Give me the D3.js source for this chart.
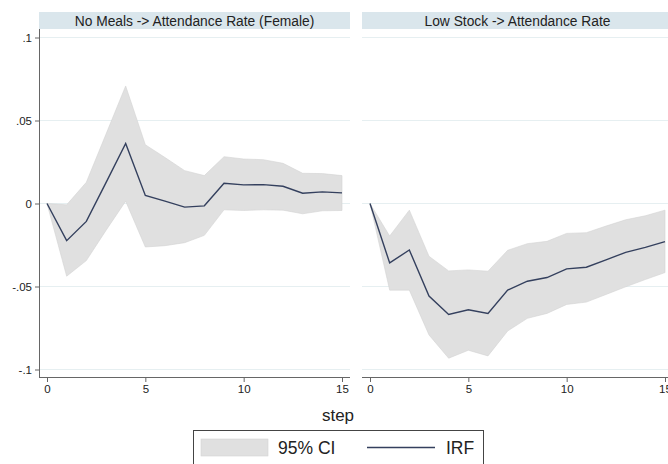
<!DOCTYPE html>
<html>
<head>
<meta charset="utf-8">
<script src="https://cdn.jsdelivr.net/npm/d3@7"></script>
<style>
  html, body { margin: 0; padding: 0; background: #fff; }
  svg { display: block; font-family: "Liberation Sans", Arial, sans-serif; }
</style>
</head>
<body>
<svg id="chart" width="668" height="464"></svg>
<script>
// Impulse-response functions with 95% confidence bands, two panels.
const steps = d3.range(0, 16);

const panelTitles = ["No Meals -> Attendance Rate (Female)", "Low Stock -> Attendance Rate"];

const irfMeals   = [0, -0.0224, -0.0108, 0.0126, 0.0362, 0.0048, 0.0014, -0.0022, -0.0014, 0.0122, 0.0112, 0.0114, 0.0104, 0.0062, 0.0070, 0.0064];
const upperMeals = [0, -0.0008, 0.0128, 0.0418, 0.0708, 0.0354, 0.0277, 0.0198, 0.0168, 0.0282, 0.0268, 0.0264, 0.0242, 0.0182, 0.0180, 0.0168];
const lowerMeals = [0, -0.0438, -0.0344, -0.0162, 0.0014, -0.0262, -0.0254, -0.0236, -0.0192, -0.0038, -0.0042, -0.0038, -0.0040, -0.0062, -0.0044, -0.0042];

const irfStock   = [0, -0.0358, -0.0280, -0.0558, -0.0668, -0.0640, -0.0662, -0.0522, -0.0468, -0.0446, -0.0394, -0.0384, -0.0340, -0.0294, -0.0264, -0.0230];
const upperStock = [0, -0.0196, -0.0040, -0.0318, -0.0406, -0.0400, -0.0408, -0.0282, -0.0242, -0.0228, -0.0180, -0.0176, -0.0136, -0.0098, -0.0074, -0.0040];
const lowerStock = [0, -0.0522, -0.0522, -0.0792, -0.0932, -0.0884, -0.0918, -0.0768, -0.0692, -0.0662, -0.0608, -0.0594, -0.0548, -0.0502, -0.0458, -0.0416];

const yTicks = [0.1, 0.05, 0, -0.05, -0.1];
const yTickLabels = [".1", ".05", "0", "-.05", "-.1"];
const xTicks = [0, 5, 10, 15];

const legendLabels = ["95% CI", "IRF"];
const xTitle = "step";

const colors = {
  band: "#e0e0e0",
  bandEdge: "#d4d4d4",
  line: "#34405e",
  grid: "#e6eff1",
  strip: "#dae6ec",
  axis: "#666666",
  text: "#222222"
};

const svg = d3.select("#chart");

const panels = [
  { title: panelTitles[0], irf: irfMeals, upper: upperMeals, lower: lowerMeals, x0: 39, x1: 350, showY: true },
  { title: panelTitles[1], irf: irfStock, upper: upperStock, lower: lowerStock, x0: 362, x1: 673, showY: false }
];

const plotTop = 29, plotBottom = 377;
const y = d3.scaleLinear().domain([-0.1, 0.1]).range([369.5, 37.5]);

panels.forEach(p => {
  const x = d3.scaleLinear().domain([0, 15]).range([p.x0 + 8, p.x1 - 8]);
  const g = svg.append("g");

  // header strip
  g.append("rect")
    .attr("x", p.x0).attr("y", 12)
    .attr("width", p.x1 - p.x0).attr("height", 17)
    .attr("fill", colors.strip);
  g.append("text")
    .attr("x", (p.x0 + p.x1) / 2).attr("y", 25.5)
    .attr("text-anchor", "middle")
    .attr("font-size", 13.8).attr("fill", colors.text)
    .text(p.title);

  // horizontal gridlines
  g.selectAll("line.grid").data(yTicks).join("line")
    .attr("class", "grid")
    .attr("x1", p.x0).attr("x2", p.x1)
    .attr("y1", d => y(d)).attr("y2", d => y(d))
    .attr("stroke", colors.grid).attr("stroke-width", 1);

  // confidence band
  const area = d3.area()
    .x((d, i) => x(steps[i]))
    .y0((d, i) => y(p.lower[i]))
    .y1((d, i) => y(p.upper[i]));
  g.append("path")
    .datum(steps)
    .attr("d", area)
    .attr("fill", colors.band)
    .attr("stroke", colors.bandEdge)
    .attr("stroke-width", 0.6);

  // impulse response line
  const line = d3.line()
    .x((d, i) => x(steps[i]))
    .y((d, i) => y(p.irf[i]));
  g.append("path")
    .datum(steps)
    .attr("d", line)
    .attr("fill", "none")
    .attr("stroke", colors.line)
    .attr("stroke-width", 1.4)
    .attr("stroke-linejoin", "miter");

  // x axis
  const xAxis = d3.axisBottom(x).tickValues(xTicks).tickSize(5).tickPadding(3).tickFormat(d3.format("d"));
  const ax = g.append("g").attr("transform", `translate(0,${plotBottom})`).call(xAxis);
  ax.select(".domain").attr("d", `M${p.x0},0.5H${p.x1}`).attr("stroke", colors.axis);
  ax.selectAll(".tick line").attr("stroke", colors.axis);
  ax.selectAll(".tick text").attr("font-size", 11.5).attr("fill", colors.text).attr("font-family", "Liberation Sans, Arial, sans-serif");

  // y axis (first panel only)
  if (p.showY) {
    const yAxis = d3.axisLeft(y).tickValues(yTicks).tickSize(4).tickPadding(3)
      .tickFormat((d, i) => yTickLabels[i]);
    const ay = g.append("g").attr("transform", `translate(${p.x0},0)`).call(yAxis);
    ay.select(".domain").attr("d", `M0.5,${plotTop}V${plotBottom}`).attr("stroke", colors.axis);
    ay.selectAll(".tick line").attr("stroke", colors.axis);
    ay.selectAll(".tick text").attr("font-size", 11.5).attr("fill", colors.text).attr("font-family", "Liberation Sans, Arial, sans-serif");
  }
});

// x-axis title
svg.append("text")
  .attr("x", 338).attr("y", 421)
  .attr("text-anchor", "middle")
  .attr("font-size", 17).attr("fill", colors.text)
  .text(xTitle);

// legend
const lg = svg.append("g");
lg.append("rect")
  .attr("x", 193.5).attr("y", 430.5)
  .attr("width", 290).attr("height", 40)
  .attr("fill", "#fff").attr("stroke", "#444").attr("stroke-width", 1);
lg.append("rect")
  .attr("x", 201).attr("y", 439)
  .attr("width", 67).attr("height", 17)
  .attr("fill", colors.band).attr("stroke", colors.bandEdge).attr("stroke-width", 0.6);
lg.append("text")
  .attr("x", 278).attr("y", 454)
  .attr("font-size", 17.5).attr("fill", colors.text)
  .text(legendLabels[0]);
lg.append("line")
  .attr("x1", 367).attr("x2", 435).attr("y1", 447.5).attr("y2", 447.5)
  .attr("stroke", colors.line).attr("stroke-width", 1.4);
lg.append("text")
  .attr("x", 446).attr("y", 454)
  .attr("font-size", 17.5).attr("fill", colors.text)
  .text(legendLabels[1]);
</script>
</body>
</html>
